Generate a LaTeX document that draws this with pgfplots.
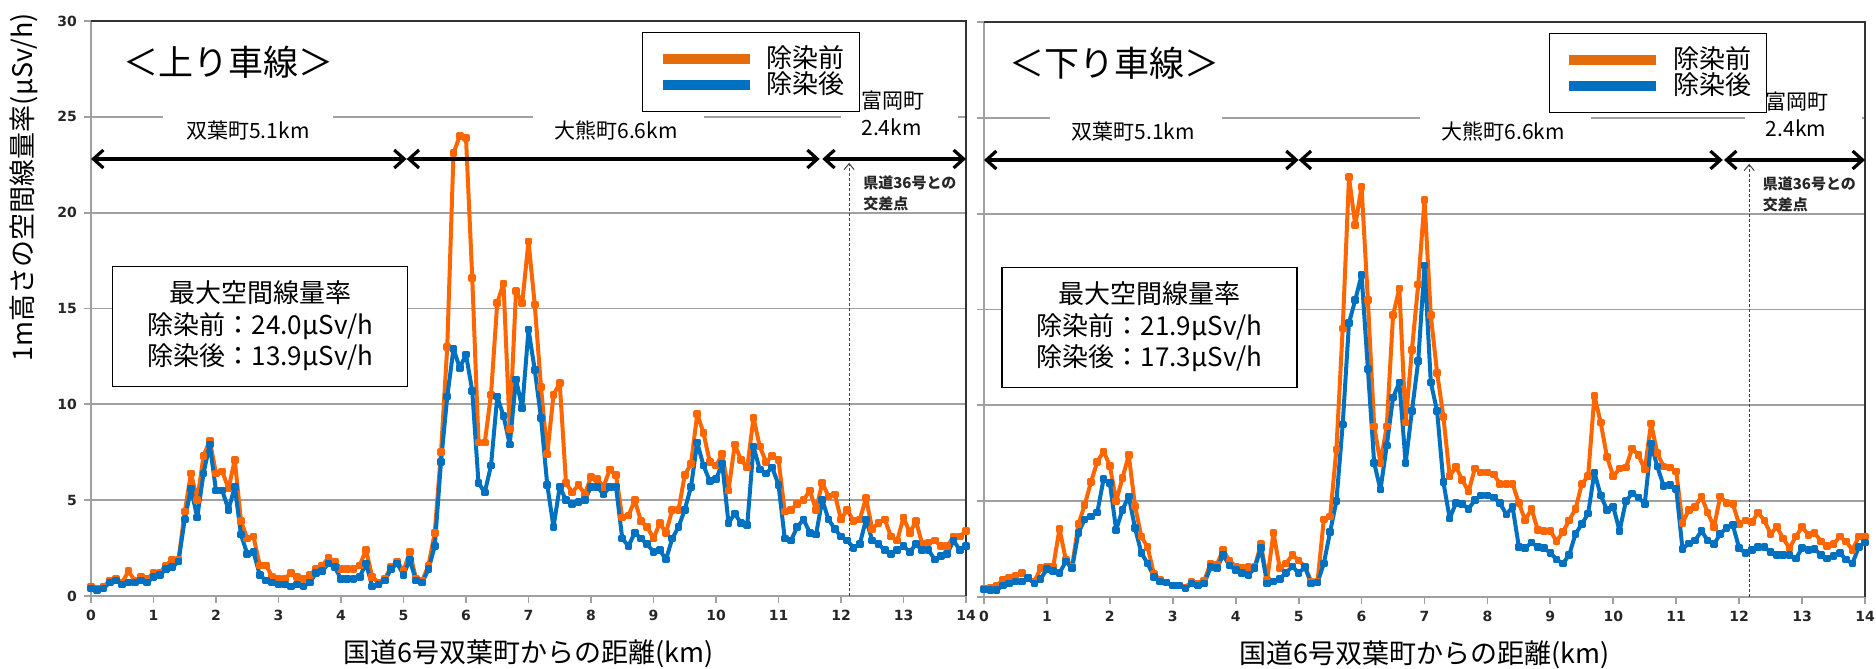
\documentclass[border=0pt]{standalone}
\usepackage{fontspec}
\setmainfont{Noto Sans CJK JP}
\newfontfamily\tickfont{DejaVu Sans}
\usepackage{pgfplots}
\pgfplotsset{compat=1.18}
\usepackage{pgfplotstable}
\usetikzlibrary{arrows.meta}

\definecolor{before}{RGB}{255,102,0}
\definecolor{beforeleg}{RGB}{228,108,10}
\definecolor{after}{RGB}{0,112,192}
\definecolor{gridgray}{RGB}{160,160,160}

% x [km], b = before decontamination, a = after
\pgfplotstableread{
x b a
0.0 0.5 0.4
0.1 0.4 0.3
0.2 0.5 0.4
0.3 0.8 0.7
0.4 0.9 0.8
0.5 0.7 0.6
0.6 1.3 0.7
0.7 0.8 0.7
0.8 1.0 0.8
0.9 0.9 0.7
1.0 1.2 1.0
1.1 1.2 1.1
1.2 1.6 1.4
1.3 1.9 1.5
1.4 1.9 1.8
1.5 4.4 4.0
1.6 6.4 5.6
1.7 5.0 4.1
1.8 7.3 6.4
1.9 8.1 7.9
2.0 6.4 5.5
2.1 6.5 5.5
2.2 5.6 4.5
2.3 7.1 5.7
2.4 3.9 3.2
2.5 3.0 2.2
2.6 3.1 2.3
2.7 1.6 1.1
2.8 1.6 0.8
2.9 1.0 0.7
3.0 0.9 0.6
3.1 0.9 0.6
3.2 1.2 0.5
3.3 1.0 0.6
3.4 0.9 0.5
3.5 1.1 0.7
3.6 1.4 1.2
3.7 1.6 1.3
3.8 2.0 1.7
3.9 1.8 1.5
4.0 1.4 0.9
4.1 1.4 0.9
4.2 1.4 0.9
4.3 1.6 1.0
4.4 2.4 1.7
4.5 1.0 0.5
4.6 0.7 0.6
4.7 0.9 0.8
4.8 1.5 1.4
4.9 1.8 1.7
5.0 1.3 1.1
5.1 2.3 1.9
5.2 0.9 0.8
5.3 0.8 0.7
5.4 1.6 1.4
5.5 3.3 2.6
5.6 7.5 7.0
5.7 13.0 10.4
5.8 23.1 12.9
5.9 24.0 11.9
6.0 23.9 12.6
6.1 16.6 10.7
6.2 8.0 5.9
6.3 8.0 5.4
6.4 10.5 6.8
6.5 15.3 10.4
6.6 16.3 9.4
6.7 8.7 7.9
6.8 15.9 11.3
6.9 15.3 9.8
7.0 18.5 13.9
7.1 15.2 11.8
7.2 10.9 9.3
7.3 7.4 5.8
7.4 10.5 3.6
7.5 11.1 5.7
7.6 5.9 5.0
7.7 5.4 4.8
7.8 5.8 4.9
7.9 5.3 5.0
8.0 6.2 5.7
8.1 6.1 5.7
8.2 5.7 5.3
8.3 6.6 5.7
8.4 6.3 5.7
8.5 4.1 3.0
8.6 4.2 2.6
8.7 5.0 3.3
8.8 3.9 3.0
8.9 3.6 2.7
9.0 3.0 2.3
9.1 3.8 2.4
9.2 3.3 1.9
9.3 4.5 3.0
9.4 4.5 3.6
9.5 6.3 4.5
9.6 6.9 5.7
9.7 9.5 8.0
9.8 8.5 6.8
9.9 7.0 6.0
10.0 6.8 6.1
10.1 7.4 6.9
10.2 5.5 3.8
10.3 7.9 4.3
10.4 7.1 3.8
10.5 6.7 3.7
10.6 9.3 7.8
10.7 7.8 6.6
10.8 7.0 6.4
10.9 7.3 6.7
11.0 7.1 5.8
11.1 4.4 3.0
11.2 4.5 2.9
11.3 4.8 3.6
11.4 5.0 4.0
11.5 5.5 3.3
11.6 4.5 3.2
11.7 5.9 5.0
11.8 5.2 4.0
11.9 5.3 3.5
12.0 4.0 3.1
12.1 4.5 2.9
12.2 3.9 2.5
12.3 4.0 2.7
12.4 5.1 4.0
12.5 3.5 2.9
12.6 3.8 2.7
12.7 4.0 2.4
12.8 3.1 2.2
12.9 2.9 2.4
13.0 4.1 2.6
13.1 3.3 2.3
13.2 3.9 2.7
13.3 2.7 2.4
13.4 2.8 2.4
13.5 2.9 1.9
13.6 2.6 2.1
13.7 2.6 2.2
13.8 3.1 2.9
13.9 3.1 2.4
14.0 3.4 2.6
}\upline

\pgfplotstableread{
x b a
0.0 0.45 0.4
0.1 0.5 0.35
0.2 0.6 0.35
0.3 0.9 0.6
0.4 1.0 0.7
0.5 1.1 0.8
0.6 1.25 0.8
0.7 1.0 1.0
0.8 0.8 0.7
0.9 1.5 0.95
1.0 1.6 1.45
1.1 1.6 1.35
1.2 3.55 1.25
1.3 1.95 1.85
1.4 1.6 1.5
1.5 3.8 3.35
1.6 4.8 4.05
1.7 6.0 4.2
1.8 7.05 4.4
1.9 7.6 6.15
2.0 6.85 5.95
2.1 5.0 3.5
2.2 6.2 4.55
2.3 7.4 5.25
2.4 4.75 3.6
2.5 3.15 2.3
2.6 2.6 1.75
2.7 1.2 1.05
2.8 0.9 0.8
2.9 0.75 0.75
3.0 0.6 0.6
3.1 0.6 0.6
3.2 0.5 0.45
3.3 0.8 0.7
3.4 0.7 0.6
3.5 0.85 0.7
3.6 1.75 1.55
3.7 1.7 1.5
3.8 2.45 2.2
3.9 1.9 1.65
4.0 1.6 1.4
4.1 1.5 1.25
4.2 1.55 1.15
4.3 1.55 1.5
4.4 2.75 2.55
4.5 0.9 0.7
4.6 3.35 0.8
4.7 1.5 0.95
4.8 1.75 1.25
4.9 2.2 1.6
5.0 1.9 1.25
5.1 1.6 1.55
5.2 0.8 0.7
5.3 0.8 0.75
5.4 4.05 1.75
5.5 4.2 3.4
5.6 7.7 5.0
5.7 14.0 9.0
5.8 21.9 14.3
5.9 19.4 15.5
6.0 21.4 16.8
6.1 15.5 11.9
6.2 8.9 7.0
6.3 7.0 5.6
6.4 8.9 7.9
6.5 14.7 10.4
6.6 16.1 11.2
6.7 9.1 7.0
6.8 12.9 9.7
6.9 16.3 12.3
7.0 20.7 17.3
7.1 14.7 11.2
7.2 11.7 9.7
7.3 9.4 6.0
7.4 6.3 4.1
7.5 6.8 4.9
7.6 6.1 4.85
7.7 5.5 4.6
7.8 6.7 5.05
7.9 6.5 5.3
8.0 6.5 5.3
8.1 6.4 5.2
8.2 5.9 4.9
8.3 5.9 4.3
8.4 5.9 4.7
8.5 4.9 2.6
8.6 4.0 2.55
8.7 4.6 2.85
8.8 3.5 2.6
8.9 3.45 2.55
9.0 3.45 2.3
9.1 2.9 1.95
9.2 3.4 1.75
9.3 4.0 2.2
9.4 4.6 3.3
9.5 5.9 3.8
9.6 6.3 4.35
9.7 10.5 6.5
9.8 9.1 5.3
9.9 7.3 4.55
10.0 6.3 4.7
10.1 6.7 3.45
10.2 6.75 5.0
10.3 7.75 5.4
10.4 7.4 5.2
10.5 6.65 4.85
10.6 9.05 8.0
10.7 7.5 6.8
10.8 6.8 5.8
10.9 6.75 5.85
11.0 6.55 5.65
11.1 3.85 2.5
11.2 4.55 2.8
11.3 4.7 2.95
11.4 5.25 3.45
11.5 4.4 2.95
11.6 3.65 2.75
11.7 5.25 3.3
11.8 4.9 3.6
11.9 4.85 3.75
12.0 3.8 2.55
12.1 4.0 2.3
12.2 3.9 2.45
12.3 4.4 2.6
12.4 4.0 2.6
12.5 3.3 2.35
12.6 3.65 2.2
12.7 3.05 2.2
12.8 2.55 2.2
12.9 3.15 2.0
13.0 3.65 2.55
13.1 3.25 2.45
13.2 3.35 2.5
13.3 2.9 2.2
13.4 2.65 2.0
13.5 2.75 2.15
13.6 3.15 2.3
13.7 2.9 1.95
13.8 2.45 1.75
13.9 3.15 2.6
14.0 3.15 2.85
}\downline

\pgfplotsset{
  panel/.style={
    scale only axis, height=287.5pt, anchor=south west,
    xmin=0, xmax=14, ymin=0, ymax=30,
    xtick={0,...,14}, ytick={0,5,...,30},
    ymajorgrids, grid style={gridgray, line width=0.9pt},
    axis line style={gridgray, line width=0.9pt},
    tick style={gridgray, line width=0.9pt},
    tick align=outside, major tick length=3.5pt,
    xtick pos=bottom, ytick pos=left,
    /pgf/number format/assume math mode=true,
    tick label style={font=\tickfont\bfseries\fontsize{7}{8}\selectfont, text=black!85},
    xlabel={国道6号双葉町からの距離(km)},
    xlabel style={font=\fontsize{13.5}{15}\selectfont, at={(axis description cs:0.5,0)}, anchor=center, yshift=-29pt},
    clip=false,
    legend cell align=left,
    legend image code/.code={\draw[#1, line width=5pt] (0pt,0pt) -- (43.5pt,0pt);},
    legend style={anchor=north west, draw=black, line width=0.6pt, fill=white,
      inner xsep=7.5pt, inner ysep=7.5pt, row sep=1.5pt, column sep=6pt,
      nodes={inner sep=0pt, text height=10pt, text depth=1.5pt}, font=\fontsize{13}{13}\selectfont},
  },
  pre/.style={before, line width=2pt, line join=round, mark=square*, mark size=0.9pt, forget plot},
  post/.style={after, line width=2pt, line join=round, mark=square*, mark size=0.9pt, forget plot},
}
\tikzset{
  span/.style={line width=1.6pt, {Straight Barb[length=5pt,width=9pt]}-{Straight Barb[length=5pt,width=9pt]}},
  town/.style={font=\fontsize{10.5}{13.5}\selectfont, inner sep=0pt},
}

\begin{document}
\begin{tikzpicture}
\path[use as bounding box] (0,0) rectangle (938pt,334.5pt);

% up line
\begin{axis}[panel, at={(45.5pt,36.5pt)}, width=437.5pt,
  ylabel={1m高さの空間線量率(μSv/h)},
  ylabel style={font=\fontsize{13.5}{15}\selectfont, at={(axis description cs:-0.0771,0.711)}, anchor=center},
  legend style={at={(0.6297,0.981)}}]
\addplot[pre] table[x=x, y=b]{\upline};
\addplot[post] table[x=x, y=a]{\upline};
\addlegendimage{beforeleg}\addlegendentry{除染前}
\addlegendimage{after}\addlegendentry{除染後}
\fill[white] (axis cs:1.15,24.75) rectangle (axis cs:3.87,25.25);
\fill[white] (axis cs:7.07,24.75) rectangle (axis cs:9.81,25.25);
\fill[white] (axis cs:12.0,24.75) rectangle (axis cs:13.87,25.25);
\draw[black!80, line width=0.9pt] (rel axis cs:0,1) -- (rel axis cs:1,1) -- (rel axis cs:1,0);
\node[town] at (axis cs:2.51,24.31) {双葉町5.1km};
\node[town] at (axis cs:8.4,24.31) {大熊町6.6km};
\node[town, anchor=west, align=left] at (axis cs:12.32,25.17) {富岡町\\2.4km};
\draw[span] (axis cs:0,22.8) -- (axis cs:5.05,22.8);
\draw[span] (axis cs:5.05,22.8) -- (axis cs:11.66,22.8);
\draw[span] (axis cs:11.7,22.8) -- (axis cs:14,22.8);
\draw[black!75, line width=0.6pt, dash pattern=on 1.5pt off 1pt,
  -{Straight Barb[length=3pt,width=5pt,line width=0.5pt]}] (axis cs:12.13,0) -- (axis cs:12.13,22.6);
\node[anchor=west, align=left, inner sep=0pt, text=black!85,
  font=\bfseries\fontsize{7.5}{10.3}\selectfont] at (axis cs:12.35,21.02) {県道36号との\\交差点};
\node[font=\fontsize{17.5}{20}\selectfont] at (axis cs:2.2,27.86) {＜上り車線＞};
\node[draw=black, line width=0.6pt, fill=white, minimum width=147.5pt, minimum height=60pt,
  align=center, inner sep=0pt, font=\fontsize{13}{15.75}\selectfont]
  at (axis cs:2.71,14.08) {最大空間線量率\\除染前：24.0μSv/h\\除染後：13.9μSv/h};
\end{axis}

% down line
\begin{axis}[panel, at={(492pt,36pt)}, width=440.5pt, yticklabels={},
  legend style={at={(0.641,0.981)}}]
\addplot[pre] table[x=x, y=b]{\downline};
\addplot[post] table[x=x, y=a]{\downline};
\addlegendimage{beforeleg}\addlegendentry{除染前}
\addlegendimage{after}\addlegendentry{除染後}
\fill[white] (axis cs:1.05,24.75) rectangle (axis cs:3.78,25.25);
\fill[white] (axis cs:6.93,24.75) rectangle (axis cs:9.65,25.25);
\fill[white] (axis cs:12.1,24.75) rectangle (axis cs:13.95,25.25);
\draw[black!80, line width=0.9pt] (rel axis cs:0,1) -- (rel axis cs:1,1) -- (rel axis cs:1,0);
\node[town] at (axis cs:2.37,24.31) {双葉町5.1km};
\node[town] at (axis cs:8.25,24.31) {大熊町6.6km};
\node[town, anchor=west, align=left] at (axis cs:12.42,25.17) {富岡町\\2.4km};
\draw[span] (axis cs:0,22.8) -- (axis cs:5.0,22.8);
\draw[span] (axis cs:5.0,22.8) -- (axis cs:11.74,22.8);
\draw[span] (axis cs:11.76,22.8) -- (axis cs:14,22.8);
\draw[black!75, line width=0.6pt, dash pattern=on 1.5pt off 1pt,
  -{Straight Barb[length=3pt,width=5pt,line width=0.5pt]}] (axis cs:12.16,0) -- (axis cs:12.16,22.6);
\node[anchor=west, align=left, inner sep=0pt, text=black!85,
  font=\bfseries\fontsize{7.5}{10.3}\selectfont] at (axis cs:12.37,21.02) {県道36号との\\交差点};
\node[font=\fontsize{17.5}{20}\selectfont] at (axis cs:2.07,27.86) {＜下り車線＞};
\node[draw=black, line width=0.6pt, fill=white, minimum width=147.5pt, minimum height=60pt,
  align=center, inner sep=0pt, font=\fontsize{13}{15.75}\selectfont]
  at (axis cs:2.63,14.08) {最大空間線量率\\除染前：21.9μSv/h\\除染後：17.3μSv/h};
\end{axis}
\end{tikzpicture}
\end{document}
